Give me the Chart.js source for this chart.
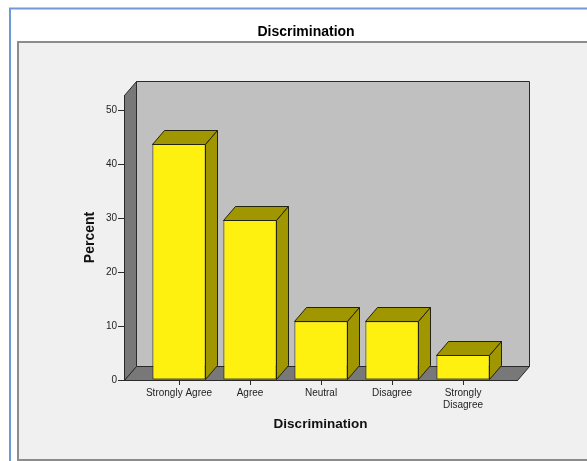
<!DOCTYPE html>
<html>
<head>
<meta charset="utf-8">
<script src="https://cdn.jsdelivr.net/npm/chart.js@4/dist/chart.umd.min.js"></script>
<style>
  html, body { margin: 0; padding: 0; background: #ffffff; overflow: hidden; }
  #wrap { width: 587px; height: 461px; }
</style>
</head>
<body>
<div id="wrap"><canvas id="c" width="587" height="461"></canvas></div>
<script>
// Survey responses: percentage of answers per agreement level
const chartTitle = 'Discrimination';
const xTitle = 'Discrimination';
const yTitle = 'Percent';
const categories = ['Strongly Agree', 'Agree', 'Neutral', 'Disagree', ['Strongly', 'Disagree']];
const percents = [43.8, 29.7, 10.9, 10.9, 4.7];
const yTicks = [0, 10, 20, 30, 40, 50];

// 3D look: depth offset of walls and bar tops/sides
const DEPTH_X = 12;
const DEPTH_Y = -14;
const BAR_FRONT = '#fff10f';
const BAR_SHADE = '#a09700';
const BAR_EDGE = '#24230f';
const WALL_BACK = '#c0c0c0';
const WALL_SIDE = '#787878';
const WALL_EDGE = '#2a2a2a';

Chart.defaults.font.family = '"Liberation Sans", Arial, Helvetica, sans-serif';

function polygon(ctx, pts, fill, stroke) {
  ctx.beginPath();
  ctx.moveTo(pts[0][0], pts[0][1]);
  for (let i = 1; i < pts.length; i++) ctx.lineTo(pts[i][0], pts[i][1]);
  ctx.closePath();
  ctx.fillStyle = fill;
  ctx.fill();
  ctx.strokeStyle = stroke;
  ctx.lineWidth = 1;
  ctx.stroke();
}

// Outer frame, grey chart panel, heading and the box the bars stand in
const backdrop = {
  id: 'backdrop',
  beforeDraw(chart) {
    const ctx = chart.ctx;
    const W = chart.width, H = chart.height;
    ctx.save();
    ctx.fillStyle = '#ffffff';
    ctx.fillRect(0, 0, W, H);

    ctx.strokeStyle = '#6e9bd6';
    ctx.lineWidth = 2;
    ctx.strokeRect(10, 8.5, W + 40, H + 40);

    ctx.fillStyle = '#f0f0f0';
    ctx.fillRect(18, 42, W, H - 42);
    ctx.strokeStyle = '#8c8c8c';
    ctx.lineWidth = 2;
    ctx.strokeRect(18, 42, W + 40, H - 43);

    ctx.fillStyle = '#000000';
    ctx.font = 'bold 14px "Liberation Sans", Arial, sans-serif';
    ctx.textAlign = 'center';
    ctx.textBaseline = 'middle';
    ctx.fillText(chartTitle, 306, 32);

    const a = chart.chartArea;
    const l = Math.round(a.left) + 0.5, r = Math.round(a.right) + 0.5;
    const t = Math.round(a.top) + 0.5, b = Math.round(a.bottom) + 0.5;
    // back wall
    polygon(ctx, [[l + DEPTH_X, t + DEPTH_Y], [r + DEPTH_X, t + DEPTH_Y], [r + DEPTH_X, b + DEPTH_Y], [l + DEPTH_X, b + DEPTH_Y]], WALL_BACK, WALL_EDGE);
    // left wall
    polygon(ctx, [[l, t], [l + DEPTH_X, t + DEPTH_Y], [l + DEPTH_X, b + DEPTH_Y], [l, b]], WALL_SIDE, WALL_EDGE);
    // floor
    polygon(ctx, [[l, b], [l + DEPTH_X, b + DEPTH_Y], [r + DEPTH_X, b + DEPTH_Y], [r, b]], WALL_SIDE, WALL_EDGE);
    ctx.restore();
  }
};

// Top and right-hand faces of each bar
const barDepth = {
  id: 'barDepth',
  afterDatasetsDraw(chart) {
    const ctx = chart.ctx;
    ctx.save();
    chart.getDatasetMeta(0).data.forEach(el => {
      const p = el.getProps(['x', 'y', 'base', 'width'], true);
      const L = Math.round(p.x - p.width / 2) + 0.5;
      const R = Math.round(p.x + p.width / 2) - 0.5;
      const T = Math.round(p.y) + 0.5;
      const B = Math.round(p.base) - 0.5;
      polygon(ctx, [[L, T], [L + DEPTH_X, T + DEPTH_Y], [R + DEPTH_X, T + DEPTH_Y], [R, T]], BAR_SHADE, BAR_EDGE);
      polygon(ctx, [[R, T], [R + DEPTH_X, T + DEPTH_Y], [R + DEPTH_X, B + DEPTH_Y], [R, B]], BAR_SHADE, BAR_EDGE);
    });
    ctx.restore();
  }
};

new Chart(document.getElementById('c'), {
  type: 'bar',
  data: {
    datasets: [{
      data: percents.map((v, i) => ({ x: i, y: v })),
      backgroundColor: BAR_FRONT,
      borderColor: BAR_EDGE,
      borderWidth: 1,
      borderSkipped: false,
      barPercentage: 0.75,
      categoryPercentage: 1
    }]
  },
  options: {
    responsive: false,
    animation: false,
    devicePixelRatio: 1,
    layout: { padding: { top: 95, right: 70, bottom: 0, left: 0 } },
    plugins: {
      legend: { display: false },
      tooltip: { enabled: false },
      title: { display: false }
    },
    scales: {
      x: {
        type: 'linear',
        offset: false,
        min: -0.775,
        max: 4.76,
        afterBuildTicks(scale) { scale.ticks = categories.map((c, i) => ({ value: i })); },
        afterFit(scale) { scale.height = 81; },
        ticks: {
          autoSkip: false,
          maxRotation: 0,
          padding: 2,
          color: '#1e1e1e',
          font: { size: 10 },
          callback: v => categories[v]
        },
        grid: { display: true, offset: false, drawOnChartArea: false, drawTicks: true, tickLength: 5, color: '#2a2a2a' },
        border: { display: true, color: '#2a2a2a' },
        title: {
          display: true,
          text: xTitle,
          color: '#111111',
          font: { size: 13.5, weight: 'bold' },
          padding: { top: 0, bottom: 29 }
        }
      },
      y: {
        min: 0,
        max: 52.8,
        afterBuildTicks(scale) { scale.ticks = yTicks.map(v => ({ value: v })); },
        afterFit(scale) { scale.width = 124; },
        ticks: { padding: 1, color: '#1e1e1e', font: { size: 10 } },
        grid: { display: true, drawOnChartArea: false, drawTicks: true, tickLength: 6, color: '#2a2a2a' },
        border: { display: true, color: '#2a2a2a' },
        title: {
          display: true,
          text: yTitle,
          color: '#111111',
          font: { size: 14, weight: 'bold' },
          padding: { top: 81.6, bottom: 0 }
        }
      }
    }
  },
  plugins: [backdrop, barDepth]
});
</script>
</body>
</html>
